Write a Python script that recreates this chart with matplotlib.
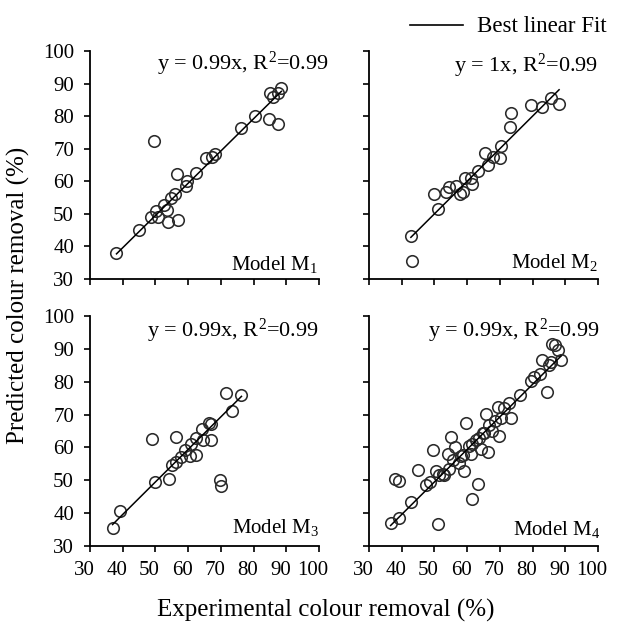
import matplotlib
matplotlib.use("Agg")
import matplotlib.pyplot as plt
from matplotlib.lines import Line2D
import matplotlib.transforms as mtransforms
import numpy as np

plt.rcParams['font.family'] = ['Liberation Serif', 'DejaVu Serif']
plt.rcParams['mathtext.fontset'] = 'custom'
plt.rcParams['mathtext.rm'] = 'Liberation Serif'
plt.rcParams['mathtext.it'] = 'Liberation Serif:italic'
plt.rcParams['mathtext.bf'] = 'Liberation Serif:bold'

# Panel M1
m1_exp = [38.1, 45.1, 49.6, 48.6, 50.7, 50.3, 52.7, 53.4, 53.9, 57.0, 54.7, 56.0, 56.7, 59.3,
          59.8, 62.3, 65.6, 67.4, 68.1, 76.3, 80.4, 84.7, 84.9, 85.9, 87.5, 87.5, 88.5]
m1_pred = [38.0, 44.9, 72.5, 48.9, 48.9, 50.8, 52.8, 51.3, 47.5, 48.2, 54.9, 56.1, 62.2, 58.4,
           60.0, 62.5, 67.1, 67.4, 68.3, 76.3, 80.1, 79.1, 87.0, 86.0, 87.0, 77.6, 88.6]
# Panel M2
m2_exp = [42.8, 43.1, 49.8, 51.1, 53.6, 54.5, 56.5, 57.7, 58.8, 59.3, 61.3, 61.6, 63.3, 65.4,
          66.4, 67.9, 69.9, 70.5, 73.0, 73.3, 79.4, 82.9, 85.6, 88.1]
m2_pred = [43.3, 35.4, 56.1, 51.5, 56.7, 58.1, 58.7, 56.1, 56.7, 61.0, 61.0, 59.1, 63.2, 68.8,
           64.9, 67.4, 67.1, 70.7, 76.6, 80.9, 83.5, 82.9, 85.5, 83.8]
# Panel M3
m3_exp = [36.9, 39.2, 49.0, 49.8, 54.2, 55.2, 56.4, 56.2, 57.9, 58.9, 60.5, 60.8, 62.3, 62.3,
          64.1, 64.6, 66.9, 67.1, 69.7, 70.0, 71.7, 73.4, 76.3, 66.4]
m3_pred = [35.5, 40.6, 62.7, 49.5, 50.5, 54.8, 63.2, 55.6, 57.1, 59.1, 57.3, 61.0, 57.6, 62.9,
           65.7, 62.2, 67.0, 62.2, 50.0, 48.2, 76.6, 71.0, 76.1, 67.3]
# Panel M4
m4_exp = [36.6, 39.1, 37.8, 39.3, 42.9, 44.9, 49.5, 48.5, 50.5, 51.0, 51.5, 53.0, 54.0, 55.0,
          55.6, 56.4, 57.6, 58.6, 59.1, 59.6, 60.6, 61.1, 61.6, 63.2, 62.7, 64.2, 64.7, 65.7,
          66.5, 66.7, 67.7, 69.3, 69.8, 70.3, 71.3, 72.8, 73.3, 76.3, 79.4, 80.4, 82.4, 82.9,
          84.5, 85.0, 85.8, 87.0, 87.8, 88.7, 85.5, 47.5, 52.5, 54.5, 58.0, 61.5, 63.5, 65.0, 68.5]
m4_pred = [37.1, 38.6, 50.5, 49.9, 43.3, 53.2, 59.1, 49.4, 52.7, 36.6, 51.7, 51.7, 58.1, 63.1,
           56.3, 60.0, 55.3, 57.8, 52.9, 67.4, 60.3, 58.0, 44.4, 48.9, 62.3, 59.5, 64.3, 70.1,
           58.5, 66.9, 64.9, 72.4, 63.4, 68.9, 71.9, 73.4, 68.9, 76.0, 80.2, 81.3, 82.5, 86.6,
           77.0, 85.1, 91.6, 91.3, 89.6, 86.6, 86.1, 48.5, 52.0, 53.5, 57.5, 61.0, 63.0, 64.5, 68.0]

slopes = [0.99, 1.0, 0.99, 0.99]
equations = ["y = 0.99x, R$^2$=0.99", "y = 1x, R$^2$=0.99",
             "y = 0.99x, R$^2$=0.99", "y = 0.99x, R$^2$=0.99"]
models = ["Model M$_1$", "Model M$_2$", "Model M$_3$", "Model M$_4$"]
ticks = [30, 40, 50, 60, 70, 80, 90, 100]

data = [(m1_exp, m1_pred), (m2_exp, m2_pred), (m3_exp, m3_pred), (m4_exp, m4_pred)]

W, H = 626, 623
fig = plt.figure(figsize=(W / 100, H / 100), dpi=100)

rects = [
    (90 / W, 1 - 279 / H, 229 / W, 228 / H),
    (369 / W, 1 - 279 / H, 229 / W, 228 / H),
    (90 / W, 1 - 546 / H, 229 / W, 230 / H),
    (369 / W, 1 - 546 / H, 229 / W, 230 / H),
]
eq_x = [1.044, 1.0, 1.0, 1.009]
eq_y = [0.917, 0.908, 0.909, 0.909]
mod_x = [0.996, 1.0, 1.0, 1.01]
mod_y = [0.04, 0.048, 0.057, 0.048]

xshift = mtransforms.ScaledTranslation(-6 / 100, 0, fig.dpi_scale_trans)

for i, (rect, (xe, yp)) in enumerate(zip(rects, data)):
    ax = fig.add_axes(rect)
    xe = np.array(xe)
    yp = np.array(yp)
    ax.plot(xe, yp, 'o', mfc='none', mec='#2a2a2a', ms=8.3, mew=1.15)
    xl = np.array([xe.min(), xe.max()])
    ax.plot(xl, slopes[i] * xl, '-', color='black', lw=1.1)
    ax.set_xlim(30, 100)
    ax.set_ylim(30, 100)
    ax.set_xticks(ticks)
    ax.set_yticks(ticks)
    for s in ['top', 'right']:
        ax.spines[s].set_visible(False)
    for s in ['left', 'bottom']:
        ax.spines[s].set_linewidth(1.3)
    ax.tick_params(direction='out', length=4.5, width=1.2, labelsize=15)
    ax.tick_params(axis='y', pad=7)
    ax.tick_params(axis='x', pad=6)
    if i in (0, 1):
        ax.tick_params(labelbottom=False)
    if i in (1, 3):
        ax.tick_params(labelleft=False)
    for lab in ax.get_xticklabels():
        lab.set_transform(lab.get_transform() + xshift)
    ax.text(eq_x[i], eq_y[i], equations[i], transform=ax.transAxes, ha='right', va='baseline',
            fontsize=16)
    ax.text(mod_x[i], mod_y[i], models[i], transform=ax.transAxes, ha='right', va='baseline',
            fontsize=15)

fig.text(326 / W, 1 - 610 / H, "Experimental colour removal (%)", ha='center', va='center',
         fontsize=18)
fig.text(18 / W, 1 - 295 / H, "Predicted colour removal (%)", ha='center', va='center',
         rotation=90, fontsize=18)

# legend
fig.add_artist(Line2D([410 / W, 463 / W], [1 - 25 / H, 1 - 25 / H], color='black', lw=1.2,
                      transform=fig.transFigure))
fig.text(477 / W, 1 - 32 / H, "Best linear Fit", ha='left', va='baseline', fontsize=16.5)

fig.savefig("out.png", dpi=100)
